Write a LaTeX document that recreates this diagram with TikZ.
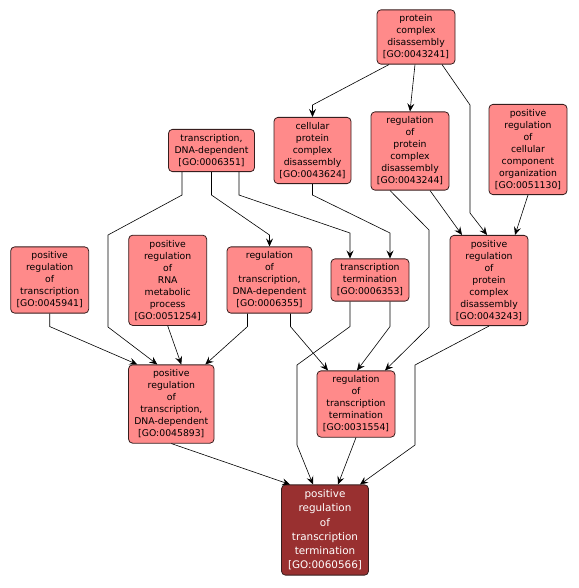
\documentclass[tikz,border=0pt]{standalone}
\usepackage{fontspec}
\newfontfamily\gofont{DejaVu Sans}
\usetikzlibrary{arrows.meta}
\definecolor{termfill}{RGB}{255,138,138}
\definecolor{hitfill}{RGB}{153,48,48}
\definecolor{termline}{RGB}{55,30,30}
\begin{document}
\begin{tikzpicture}[x=1pt,y=-1pt,
    term/.style={draw=termline,fill=termfill,line width=0.8pt,rounded corners=4pt,align=center,
        minimum width=78pt,inner xsep=2.5pt,inner ysep=5pt,font=\gofont\fontsize{9.3}{12}\selectfont},
    wideterm/.style={term,minimum width=86pt},
    hit/.style={term,fill=hitfill,text=white,minimum width=87pt,font=\gofont\fontsize{10.4}{14.2}\selectfont},
    edge/.style={-{Stealth[length=8pt,width=7pt,inset=3pt]},line width=0.6pt}]
            \useasboundingbox (0,0) rectangle (578,588);
            % terms
            \node[term] (pcd) at (416,37) {protein\\complex\\disassembly\\{[GO:0043241]}};
            \node[term,minimum width=77pt] (cpcd) at (312.5,150.5) {cellular\\protein\\complex\\disassembly\\{[GO:0043624]}};
            \node[term] (rpcd) at (410,151) {regulation\\of\\protein\\complex\\disassembly\\{[GO:0043244]}};
            \node[term] (prcco) at (528,149.5) {positive\\regulation\\of\\cellular\\component\\organization\\{[GO:0051130]}};
            \node[wideterm] (tdd) at (211.5,150.5) {transcription,\\DNA-dependent\\{[GO:0006351]}};
            \node[term] (prt) at (49.7,280) {positive\\regulation\\of\\transcription\\{[GO:0045941]}};
            \node[term] (prrmp) at (167.7,280.3) {positive\\regulation\\of\\RNA\\metabolic\\process\\{[GO:0051254]}};
            \node[wideterm,minimum width=85pt] (rtdd) at (269.5,280) {regulation\\of\\transcription,\\DNA-dependent\\{[GO:0006355]}};
            \node[term] (tt) at (370,280) {transcription\\termination\\{[GO:0006353]}};
            \node[term] (prpcd) at (489,280.5) {positive\\regulation\\of\\protein\\complex\\disassembly\\{[GO:0043243]}};
            \node[wideterm,minimum width=85.5pt] (prtdd) at (171.3,404) {positive\\regulation\\of\\transcription,\\DNA-dependent\\{[GO:0045893]}};
            \node[term] (rtt) at (356,404) {regulation\\of\\transcription\\termination\\{[GO:0031554]}};
            \node[hit] (hit) at (325,530) {positive\\regulation\\of\\transcription\\termination\\{[GO:0060566]}};
            % is_a / regulates links
            \draw[edge] ([xshift=-27pt]pcd.south) -- (312.5,105) -- (cpcd.north);
            \draw[edge] ([xshift=-1pt]pcd.south) -- (rpcd.north);
            \draw[edge] ([xshift=26pt]pcd.south) -- (470,105) -- (470,213) -- ([xshift=-2pt]prpcd.north);
            \draw[edge] (cpcd.south) -- ++(0,11) -- (390,233) -- ([xshift=20pt]tt.north);
            \draw[edge] ([xshift=20pt]rpcd.south) -- ([xshift=-27pt]prpcd.north);
            \draw[edge] ([xshift=-20pt]rpcd.south) -- (429,230) -- (429,327) -- ([xshift=29pt]rtt.north);
            \draw[edge] (prcco.south) -- ([xshift=26pt]prpcd.north);
            \draw[edge] ([xshift=-29.5pt]tdd.south) -- ++(0,23) -- (108,235) -- (108,327) -- ([xshift=-14pt]prtdd.north);
            \draw[edge] (tdd.south) -- ++(0,23) -- (269.5,235) -- (rtdd.north);
            \draw[edge] ([xshift=27.5pt]tdd.south) -- ++(0,23) -- (350,233) -- ([xshift=-20pt]tt.north);
            \draw[edge] (prt.south) -- ++(0,13) -- ([xshift=-34pt]prtdd.north);
            \draw[edge] (prrmp.south) -- ([xshift=10pt]prtdd.north);
            \draw[edge] ([xshift=-22pt]rtdd.south) -- ++(0,13) -- ([xshift=34pt]prtdd.north);
            \draw[edge] ([xshift=21pt]rtdd.south) -- ++(0,13) -- ([xshift=-28pt]rtt.north);
            \draw[edge] ([xshift=20pt]tt.south) -- ++(0,25) -- ([xshift=1pt]rtt.north);
            \draw[edge] ([xshift=-20pt]tt.south) -- ++(0,25) -- (297,365) -- (297,445) -- ([xshift=-12pt]hit.north);
            \draw[edge] (rtt.south) -- ([xshift=13pt]hit.north);
            \draw[edge] (prtdd.south) -- ([xshift=-35pt]hit.north);
            \draw[edge] (prpcd.south) -- (415,365) -- (415,445) -- ([xshift=35pt]hit.north);
\end{tikzpicture}
\end{document}
